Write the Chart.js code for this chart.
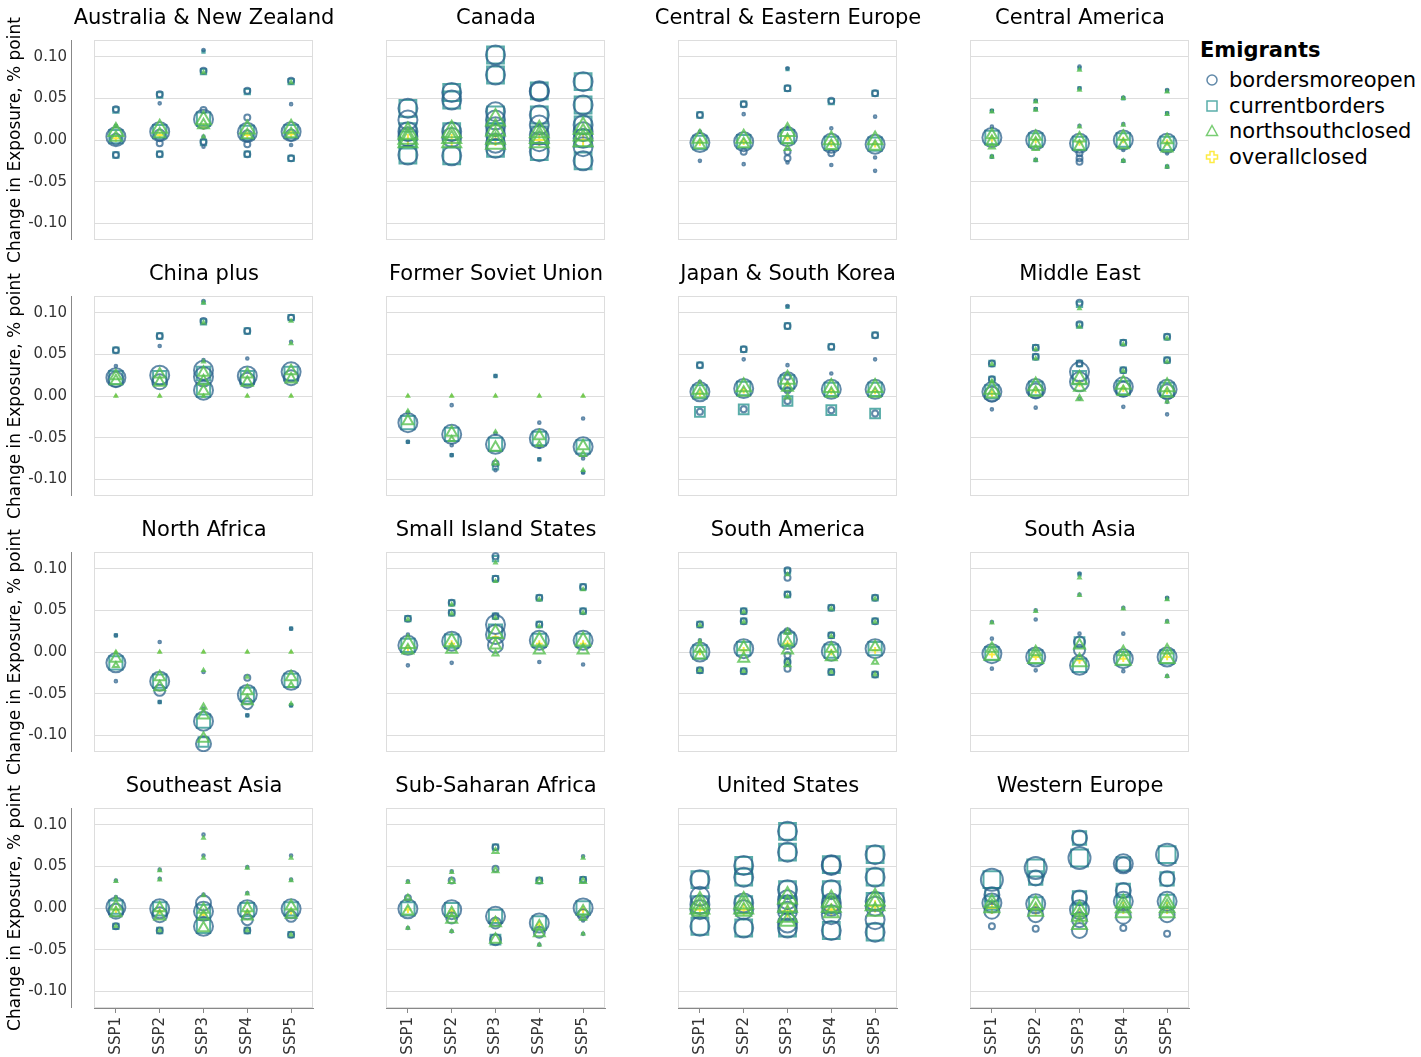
<!DOCTYPE html>
<html><head><meta charset="utf-8">
<script src="https://cdn.jsdelivr.net/npm/chart.js@4.4.1/dist/chart.umd.min.js"></script>
<style>
body{margin:0;background:#fff;width:1421px;height:1057px;overflow:hidden;position:relative;font-family:"DejaVu Sans",sans-serif;}
canvas{position:absolute;}
.ttl{position:absolute;width:300px;text-align:center;font-size:21px;line-height:21px;color:#000;white-space:nowrap;}
.lg{position:absolute;left:1200px;font-size:21px;line-height:21px;color:#000;white-space:nowrap;}
.lg svg{position:absolute;left:4px;top:2px;}
.lg span{position:absolute;left:29px;top:0;}
</style></head><body>
<script>
const ssps = ['SSP1','SSP2','SSP3','SSP4','SSP5'];
const scenarios = ['bordersmoreopen','currentborders','northsouthclosed','overallclosed'];
const regions = ['Australia & New Zealand','Canada','Central & Eastern Europe','Central America',
  'China plus','Former Soviet Union','Japan & South Korea','Middle East',
  'North Africa','Small Island States','South America','South Asia',
  'Southeast Asia','Sub-Saharan Africa','United States','Western Europe'];
const yTicks = [-0.10,-0.05,0,0.05,0.10];
const yTitle = 'Change in Exposure, % point';
const legendTitle = 'Emigrants';

// each point: [ssp number, change in exposure, size class]
const australiaNZ = [
 [[1,.037,2],[1,.017,1],[1,.004,5],[1,.001,3],[1,-.018,2],[2,.055,2],[2,.044,1],[2,.010,5],[2,.006,3],[2,-.004,2],[2,-.017,2],
  [3,.108,1],[3,.083,2],[3,.036,2],[3,.025,5],[3,.004,1],[3,-.002,2],[3,-.008,1],[4,.059,2],[4,.027,2],[4,.009,5],[4,.005,3],[4,-.005,2],[4,-.017,2],
  [5,.071,2],[5,.043,1],[5,.010,5],[5,.006,3],[5,-.006,1],[5,-.022,2]],
 [[1,.036,2],[1,.004,4],[1,-.018,2],[2,.054,2],[2,.010,4],[2,-.017,2],[3,.106,1],[3,.082,2],[3,.025,4],[3,-.003,2],[4,.058,2],[4,.009,4],[4,-.017,2],[5,.070,2],[5,.010,4],[5,-.022,2]],
 [[1,.010,4],[1,.003,3],[1,.016,1],[2,.014,4],[2,.007,3],[3,.024,4],[3,.018,3],[3,.004,1],[3,.081,1],[4,.013,4],[4,.006,3],[5,.014,4],[5,.007,3],[5,.069,1]],
 [[1,.002,2],[2,.006,2],[3,.016,2],[4,.006,2],[5,.007,2]]
];
const canada = [
 [[1,.038,5],[1,.024,5],[1,.010,5],[1,.004,5],[1,-.018,5],[2,.057,5],[2,.048,5],[2,.010,5],[2,.003,5],[2,-.019,5],
  [3,.102,5],[3,.078,5],[3,.034,5],[3,.024,5],[3,.016,5],[3,.007,5],[3,-.004,5],[3,-.010,5],
  [4,.059,5],[4,.058,5],[4,.030,5],[4,.018,5],[4,.006,5],[4,-.002,5],[4,-.014,5],
  [5,.070,5],[5,.042,5],[5,.018,5],[5,.010,5],[5,.002,5],[5,-.008,5],[5,-.025,5]],
 [[1,.038,5],[1,.010,5],[1,0,5],[1,-.018,5],[2,.057,5],[2,.048,5],[2,.010,5],[2,-.019,5],[3,.102,5],[3,.078,5],[3,.030,5],[3,.010,5],[3,-.010,5],
  [4,.059,5],[4,.030,5],[4,.006,5],[4,-.014,5],[5,.070,5],[5,.042,5],[5,.018,5],[5,.002,5],[5,-.025,5]],
 [[1,.008,5],[1,.002,5],[1,-.002,5],[2,.010,5],[2,.003,5],[2,-.002,5],[3,.024,5],[3,.012,5],[3,.002,5],[3,-.004,5],[4,.010,5],[4,.003,5],[4,-.002,5],[5,.014,5],[5,.006,5],[5,-.001,5]],
 [[1,0,3],[2,0,3],[3,0,3],[4,0,3],[5,0,3]]
];
const centralEasternEurope = [
 [[1,.030,2],[1,.010,1],[1,-.003,5],[1,-.025,1],[2,.043,2],[2,.031,1],[2,-.002,5],[2,-.014,2],[2,-.029,1],
  [3,.086,1],[3,.062,2],[3,.015,1],[3,.004,5],[3,-.014,2],[3,-.022,2],[3,-.027,1],[4,.047,2],[4,.014,1],[4,-.004,5],[4,-.016,2],[4,-.030,1],
  [5,.056,2],[5,.028,1],[5,-.005,5],[5,-.021,1],[5,-.037,1]],
 [[1,.030,2],[1,-.003,4],[2,.043,2],[2,-.002,4],[3,.085,1],[3,.062,2],[3,.004,4],[4,.046,2],[4,-.004,4],[5,.056,2],[5,-.005,4]],
 [[1,.002,4],[1,-.006,3],[2,.002,4],[2,-.005,3],[3,.010,4],[3,0,3],[3,-.010,2],[4,0,4],[4,-.007,3],[5,0,4],[5,-.008,3]],
 [[1,-.003,2],[2,-.002,2],[3,.003,2],[4,-.004,2],[5,-.005,2]]
];
const centralAmerica = [
 [[1,.035,1],[1,.016,1],[1,.003,5],[1,-.020,1],[2,.047,1],[2,.037,1],[2,0,5],[2,-.024,1],
  [3,.088,1],[3,.062,1],[3,.017,1],[3,-.004,5],[3,-.016,2],[3,-.022,2],[3,-.026,2],[4,.051,1],[4,.019,1],[4,0,5],[4,-.012,1],[4,-.025,1],
  [5,.060,1],[5,.032,1],[5,-.004,5],[5,-.016,1],[5,-.032,1]],
 [[1,.035,1],[1,.003,4],[1,-.020,1],[2,.047,1],[2,.037,1],[2,0,4],[2,-.024,1],[3,.086,1],[3,.062,1],[3,-.004,4],[4,.050,1],[4,0,4],[4,-.025,1],[5,.059,1],[5,.032,1],[5,-.004,4],[5,-.032,1]],
 [[1,.034,1],[1,.006,3],[1,-.002,3],[1,-.008,2],[1,-.020,1],[2,.046,1],[2,.036,1],[2,.004,3],[2,-.004,3],[2,-.010,2],[2,-.024,1],
  [3,.084,1],[3,.060,1],[3,.016,1],[3,.002,3],[3,-.008,3],[4,.050,1],[4,.018,1],[4,.004,3],[4,-.006,3],[4,-.025,1],
  [5,.058,1],[5,.031,1],[5,0,3],[5,-.010,3],[5,-.032,1]],
 [[1,.002,2],[2,0,2],[3,-.003,2],[4,0,2],[5,-.003,2]]
];
const chinaPlus = [
 [[1,.055,2],[1,.036,1],[1,.022,5],[1,.020,4],[2,.072,2],[2,.060,1],[2,.025,5],[2,.017,4],
  [3,.114,1],[3,.090,2],[3,.043,1],[3,.031,5],[3,.023,5],[3,.007,5],[4,.078,2],[4,.045,1],[4,.024,5],[4,.019,4],
  [5,.094,2],[5,.065,1],[5,.029,5],[5,.022,4]],
 [[1,.055,2],[1,.022,4],[2,.072,2],[2,.022,4],[3,.112,1],[3,.089,2],[3,.027,4],[3,.007,4],[4,.078,2],[4,.022,4],[5,.094,2],[5,.027,4]],
 [[1,.024,3],[1,.018,3],[1,0,1],[2,.026,3],[2,.016,3],[2,0,1],[3,.112,1],[3,.088,1],[3,.041,1],[3,.028,3],[3,.018,3],[3,.006,3],[3,0,1],
  [4,.026,3],[4,.016,3],[4,0,1],[5,.090,1],[5,.063,1],[5,.030,3],[5,.020,3],[5,0,1]],
 [[1,0,1],[2,0,1],[3,0,1],[4,0,1],[5,0,1]]
];
const formerSovietUnion = [
 [[1,-.020,1],[1,-.032,5],[1,-.055,1],[2,-.011,1],[2,-.046,5],[2,-.059,1],[2,-.071,1],
  [3,.024,1],[3,-.045,1],[3,-.058,5],[3,-.081,2],[3,-.089,1],[4,-.032,1],[4,-.051,5],[4,-.061,1],[4,-.076,1],
  [5,-.027,1],[5,-.061,5],[5,-.075,1],[5,-.092,1]],
 [[1,-.032,4],[1,-.055,1],[2,-.046,4],[2,-.071,1],[3,.024,1],[3,-.058,4],[3,-.085,2],[4,-.051,4],[4,-.076,1],[5,-.061,4],[5,-.091,1]],
 [[1,0,1],[1,-.018,1],[1,-.030,3],[2,0,1],[2,-.044,3],[2,-.052,2],[3,0,1],[3,-.043,1],[3,-.062,3],[3,-.080,2],
  [4,0,1],[4,-.048,3],[4,-.058,2],[5,0,1],[5,-.060,3],[5,-.070,2],[5,-.089,1]],
 [[1,0,1],[2,0,1],[3,0,1],[4,0,1],[5,0,1]]
];
const japanSouthKorea = [
 [[1,.037,2],[1,.017,1],[1,.005,5],[1,-.019,2],[2,.056,2],[2,.044,1],[2,.009,5],[2,-.016,2],
  [3,.108,1],[3,.084,2],[3,.037,1],[3,.023,2],[3,.017,5],[3,.007,2],[3,-.006,2],[4,.059,2],[4,.027,1],[4,.008,5],[4,-.017,2],
  [5,.073,2],[5,.044,1],[5,.008,5],[5,-.021,2]],
 [[1,.037,2],[1,.005,4],[1,-.019,3],[2,.056,2],[2,.009,4],[2,-.016,3],[3,.107,1],[3,.084,2],[3,.017,4],[3,-.006,3],[4,.059,2],[4,.008,4],[4,-.017,3],[5,.073,2],[5,.008,4],[5,-.021,3]],
 [[1,.008,4],[1,.002,3],[2,.011,4],[2,.004,3],[3,.020,4],[3,.010,3],[3,-.001,2],[4,.010,4],[4,.003,3],[5,.010,4],[5,.003,3]],
 [[1,.003,2],[2,.007,2],[3,.014,2],[4,.006,2],[5,.006,2]]
];
const middleEast = [
 [[1,.039,2],[1,.020,2],[1,.005,5],[1,.002,4],[1,-.016,1],[2,.058,2],[2,.047,2],[2,.009,5],[2,.006,4],[2,-.014,1],
  [3,.112,2],[3,.086,2],[3,.039,2],[3,.029,5],[3,.017,5],[3,-.003,1],[4,.064,2],[4,.031,2],[4,.011,5],[4,.008,4],[4,-.013,1],
  [5,.071,2],[5,.043,2],[5,.008,5],[5,.005,4],[5,-.007,1],[5,-.022,1]],
 [[1,.039,2],[1,.020,2],[1,.005,4],[2,.058,2],[2,.047,2],[2,.009,4],[3,.110,2],[3,.085,2],[3,.039,2],[3,.022,4],[4,.064,2],[4,.031,2],[4,.010,4],[5,.071,2],[5,.043,2],[5,.008,4]],
 [[1,.038,1],[1,.018,1],[1,.008,4],[1,.002,3],[2,.056,1],[2,.045,1],[2,.012,4],[2,.004,3],[3,.105,1],[3,.083,1],[3,.020,4],[3,.010,3],[3,-.003,2],
  [4,.062,1],[4,.030,1],[4,.014,4],[4,.005,3],[5,.069,1],[5,.041,1],[5,.011,4],[5,.003,3],[5,-.007,1]],
 [[1,.003,2],[2,.007,2],[3,.015,2],[4,.009,2],[5,.006,2]]
];
const northAfrica = [
 [[1,.020,1],[1,-.013,5],[1,-.035,1],[2,.012,1],[2,-.035,5],[2,-.046,3],[2,-.060,1],
  [3,-.024,1],[3,-.068,1],[3,-.083,5],[3,-.110,4],[4,-.031,2],[4,-.051,5],[4,-.062,3],[4,-.076,1],
  [5,.028,1],[5,-.034,5],[5,-.064,1]],
 [[1,.020,1],[1,-.013,4],[2,-.035,4],[2,-.060,1],[3,-.083,4],[3,-.108,3],[4,-.051,4],[4,-.076,1],[5,.028,1],[5,-.034,4],[5,-.064,1]],
 [[1,0,1],[1,-.008,3],[1,-.016,2],[2,0,1],[2,-.030,3],[2,-.042,3],[3,0,1],[3,-.022,1],[3,-.066,2],[3,-.076,3],[3,-.104,3],
  [4,0,1],[4,-.030,1],[4,-.047,3],[4,-.059,3],[5,0,1],[5,-.030,3],[5,-.040,2],[5,-.062,1]],
 [[1,0,1],[2,0,1],[3,0,1],[4,0,1],[5,0,1]]
];
const smallIslandStates = [
 [[1,.040,2],[1,.021,1],[1,.008,5],[1,-.016,1],[2,.059,2],[2,.047,2],[2,.013,5],[2,-.013,1],
  [3,.115,2],[3,.088,2],[3,.043,2],[3,.033,5],[3,.021,5],[3,.008,4],[4,.065,2],[4,.033,2],[4,.014,5],[4,-.012,1],
  [5,.078,2],[5,.049,2],[5,.014,5],[5,-.015,1]],
 [[1,.040,2],[1,.008,4],[2,.059,2],[2,.047,2],[2,.013,4],[3,.112,2],[3,.088,2],[3,.043,2],[3,.025,4],[4,.065,2],[4,.033,2],[4,.014,4],[5,.078,2],[5,.049,2],[5,.014,4]],
 [[1,.039,1],[1,.010,4],[1,.002,3],[2,.057,1],[2,.046,1],[2,.012,4],[2,.003,3],[3,.107,1],[3,.085,1],[3,.041,1],[3,.022,4],[3,.008,3],[3,-.002,2],
  [4,.063,1],[4,.031,1],[4,.013,4],[4,.002,3],[5,.075,1],[5,.047,1],[5,.013,4],[5,.002,3]],
 [[1,.005,2],[2,.010,2],[3,.018,2],[4,.010,2],[5,.010,2]]
];
const southAmerica = [
 [[1,.033,2],[1,.014,1],[1,0,5],[1,-.022,2],[2,.049,2],[2,.037,2],[2,.004,5],[2,-.023,2],
  [3,.098,2],[3,.089,2],[3,.069,2],[3,.025,2],[3,.015,5],[3,-.004,2],[3,-.012,2],[3,-.020,2],
  [4,.053,2],[4,.020,2],[4,.001,5],[4,-.024,2],[5,.065,2],[5,.037,2],[5,.004,5],[5,-.027,2]],
 [[1,.033,2],[1,0,4],[1,-.022,2],[2,.049,2],[2,.037,2],[2,.004,4],[2,-.023,2],[3,.097,2],[3,.069,2],[3,.015,4],[3,-.012,2],
  [4,.053,2],[4,.020,2],[4,.001,4],[4,-.024,2],[5,.065,2],[5,.037,2],[5,.004,4],[5,-.027,2]],
 [[1,.032,1],[1,.013,1],[1,.004,3],[1,-.004,3],[1,-.022,1],[2,.048,1],[2,.036,1],[2,.006,3],[2,-.008,3],[2,-.023,1],
  [3,.093,1],[3,.067,1],[3,.024,2],[3,.012,3],[3,.002,3],[3,-.015,2],[4,.052,1],[4,.019,1],[4,.004,3],[4,-.006,3],[4,-.024,1],
  [5,.064,1],[5,.036,1],[5,.006,3],[5,-.012,2],[5,-.027,1]],
 [[1,0,2],[2,.002,2],[3,.010,2],[4,0,2],[5,.002,2]]
];
const southAsia = [
 [[1,.036,1],[1,.016,1],[1,-.002,5],[1,-.020,1],[2,.050,1],[2,.039,1],[2,-.006,5],[2,-.022,1],
  [3,.094,1],[3,.069,1],[3,.022,1],[3,.012,3],[3,.002,3],[3,-.016,5],[4,.053,1],[4,.022,1],[4,-.008,5],[4,-.023,1],
  [5,.065,1],[5,.037,1],[5,-.006,5],[5,-.029,1]],
 [[1,-.002,4],[2,-.006,4],[3,.093,1],[3,.012,3],[3,-.016,4],[4,-.008,4],[5,.064,1],[5,-.006,4]],
 [[1,.035,1],[1,.004,3],[1,-.004,4],[2,.049,1],[2,0,3],[2,-.008,4],[3,.089,1],[3,.068,1],[3,.008,3],[3,-.012,4],
  [4,.052,1],[4,0,3],[4,-.010,4],[5,.063,1],[5,.036,1],[5,.002,3],[5,-.008,4],[5,-.029,1]],
 [[1,-.003,2],[2,-.006,2],[3,-.010,2],[4,-.008,2],[5,-.006,2]]
];
const southeastAsia = [
 [[1,.033,1],[1,.013,1],[1,.001,5],[1,-.004,4],[1,-.022,2],[2,.046,1],[2,.035,1],[2,-.001,5],[2,-.008,4],[2,-.027,2],
  [3,.088,1],[3,.063,1],[3,.016,1],[3,.006,4],[3,-.004,5],[3,-.022,5],[4,.049,1],[4,.018,1],[4,-.002,5],[4,-.014,3],[4,-.027,2],
  [5,.063,1],[5,.034,1],[5,-.001,5],[5,-.010,3],[5,-.032,2]],
 [[1,.001,4],[1,-.022,2],[2,-.001,4],[2,-.027,2],[3,-.004,4],[3,-.022,4],[4,-.002,4],[4,-.027,2],[5,-.001,4],[5,-.032,2]],
 [[1,.032,1],[1,.012,1],[1,.002,3],[1,-.006,3],[1,-.022,1],[2,.045,1],[2,.034,1],[2,0,3],[2,-.010,3],[2,-.027,1],
  [3,.084,1],[3,.060,1],[3,.015,1],[3,-.002,3],[3,-.010,3],[3,-.024,3],[4,.048,1],[4,.017,1],[4,0,3],[4,-.010,3],[4,-.027,1],
  [5,.060,1],[5,.033,1],[5,.002,3],[5,-.008,3],[5,-.032,1]],
 [[1,-.002,2],[2,-.004,2],[3,-.008,2],[4,-.005,2],[5,-.004,2]]
];
const subSaharanAfrica = [
 [[1,.032,1],[1,.012,2],[1,-.001,5],[1,-.024,1],[2,.044,1],[2,.033,2],[2,-.002,5],[2,-.012,3],[2,-.028,1],
  [3,.073,2],[3,.047,2],[3,-.010,5],[3,-.018,3],[3,-.038,3],[4,.033,2],[4,-.018,5],[4,-.029,3],[4,-.044,1],
  [5,.062,1],[5,.034,2],[5,0,5],[5,-.008,3],[5,-.015,1],[5,-.031,1]],
 [[1,-.001,4],[2,-.002,4],[3,.073,2],[3,-.010,4],[3,-.038,3],[4,.033,2],[4,-.018,4],[5,.034,2],[5,0,4]],
 [[1,.031,1],[1,.012,2],[1,-.004,3],[1,-.024,1],[2,.043,1],[2,.032,2],[2,-.006,3],[2,-.014,3],[2,-.028,1],
  [3,.068,2],[3,.045,2],[3,-.018,3],[3,-.038,3],[4,.032,2],[4,-.022,3],[4,-.030,3],[4,-.044,1],
  [5,.060,1],[5,.032,2],[5,-.004,3],[5,-.012,2],[5,-.031,1]],
 [[1,-.002,2],[2,-.004,2],[3,-.014,2],[4,-.020,2],[5,-.002,2]]
];
const unitedStates = [
 [[1,.034,5],[1,.014,5],[1,.004,5],[1,-.002,5],[1,-.022,5],[2,.051,5],[2,.037,5],[2,.006,5],[2,-.002,5],[2,-.024,5],
  [3,.092,5],[3,.067,5],[3,.022,5],[3,.010,5],[3,.004,5],[3,-.004,5],[3,-.018,5],[3,-.024,5],
  [4,.052,5],[4,.051,5],[4,.022,5],[4,.006,5],[4,.002,5],[4,-.008,5],[4,-.027,5],
  [5,.064,5],[5,.037,5],[5,.008,5],[5,.002,5],[5,-.014,5],[5,-.029,5]],
 [[1,.034,5],[1,.004,5],[1,-.022,5],[2,.051,5],[2,.037,5],[2,.004,5],[2,-.024,5],[3,.092,5],[3,.067,5],[3,.022,5],[3,.004,5],[3,-.024,5],
  [4,.052,5],[4,.022,5],[4,.004,5],[4,-.027,5],[5,.064,5],[5,.037,5],[5,.008,5],[5,-.029,5]],
 [[1,.006,5],[1,0,5],[1,-.004,4],[2,.006,5],[2,0,5],[2,-.004,4],[3,.012,5],[3,.002,5],[3,-.010,5],[3,-.016,4],
  [4,.008,5],[4,.002,5],[4,-.006,4],[5,.010,5],[5,.004,5],[5,-.004,4]],
 [[1,-.002,3],[2,-.002,3],[3,-.004,3],[4,-.002,3],[5,.002,3]]
];
const westernEurope = [
 [[1,.034,6],[1,.016,4],[1,.006,5],[1,-.004,4],[1,-.022,2],[2,.048,6],[2,.036,4],[2,.005,5],[2,-.008,4],[2,-.025,2],
  [3,.084,4],[3,.060,6],[3,.012,4],[3,-.002,5],[3,-.014,4],[3,-.027,4],[4,.053,5],[4,.052,4],[4,.021,4],[4,.008,5],[4,-.010,4],[4,-.024,2],
  [5,.064,6],[5,.035,4],[5,.008,5],[5,-.008,4],[5,-.031,2]],
 [[1,.034,5],[1,.016,4],[1,.006,4],[2,.048,5],[2,.036,4],[2,.005,4],[3,.084,4],[3,.060,5],[3,.012,4],[3,-.002,4],
  [4,.053,4],[4,.021,4],[4,.008,4],[5,.064,5],[5,.035,4],[5,.008,4]],
 [[1,.006,4],[1,0,4],[2,.004,4],[2,-.004,4],[3,-.002,4],[3,-.010,4],[3,-.020,4],[4,.006,4],[4,0,4],[4,-.006,4],[5,.006,4],[5,0,4],[5,-.006,4]],
 [[1,0,3],[2,-.002,3],[3,-.010,3],[4,0,3],[5,0,3]]
];
const regionData = [australiaNZ, canada, centralEasternEurope, centralAmerica,
  chinaPlus, formerSovietUnion, japanSouthKorea, middleEast,
  northAfrica, smallIslandStates, southAmerica, southAsia,
  southeastAsia, subSaharanAfrica, unitedStates, westernEurope];

// ---- styling ----
const FONT = '"DejaVu Sans", sans-serif';
Chart.defaults.font.family = FONT;
const shapes = ['circle','rect','triangle','cross'];
const colors = ['rgba(44,98,140,0.75)','rgba(33,145,140,0.75)','rgba(88,192,80,0.8)','rgba(253,231,37,0.85)'];
const shapeScale = [1, 1.25, 1.15, 1.1];
const drawOrder = [1, 2, 0, 3];
const sizeRadius = [0, 1.3, 3, 5.5, 7.5, 9.5, 11];

const frame = {
  id: 'frame',
  beforeDatasetsDraw(chart, args, opts) {
    const a = chart.chartArea, g = chart.ctx;
    g.save();
    g.strokeStyle = '#dddddd'; g.lineWidth = 1;
    g.strokeRect(a.left + 0.5, a.top + 0.5, a.right - a.left - 1, a.bottom - a.top - 1);
    if (opts.axisLine) {
      g.strokeStyle = '#888888';
      g.beginPath(); g.moveTo(a.left - 22.5, a.top); g.lineTo(a.left - 22.5, a.bottom); g.stroke();
    }
    g.restore();
  }
};

regionData.forEach((pts, i) => {
  const r = Math.floor(i / 4), c = i % 4;
  const bottom = r === 3;
  const cv = document.createElement('canvas');
  const H = bottom ? 289 : 268;
  cv.width = 320; cv.height = H;
  cv.style.left = (292 * c) + 'px'; cv.style.top = (256 * r) + 'px';
  cv.style.width = '320px'; cv.style.height = H + 'px';
  document.body.appendChild(cv);

  const t = document.createElement('div');
  t.className = 'ttl'; t.textContent = regions[i];
  t.style.left = (292 * c + 94 + 110 - 150) + 'px';
  t.style.top = (256 * r + 7) + 'px';
  document.body.appendChild(t);

  new Chart(cv, {
    type: 'scatter',
    data: {
      datasets: scenarios.map((s, k) => ({
        label: s,
        data: pts[k].map(p => ({x: ssps[p[0] - 1], y: p[1], w: p[2]})),
        pointStyle: shapes[k],
        pointBorderColor: colors[k],
        pointBackgroundColor: 'rgba(0,0,0,0)',
        pointBorderWidth: 2,
        pointRadius: ctx => sizeRadius[ctx.raw.w] * shapeScale[k],
        order: drawOrder[k]
      }))
    },
    options: {
      responsive: false, animation: false, events: [],
      devicePixelRatio: 1,
      layout: {autoPadding: false, padding: {top: 40, right: 7, left: 0, bottom: 0}},
      plugins: {legend: {display: false}, tooltip: {enabled: false}, frame: {axisLine: c === 0}},
      scales: {
        x: {
          type: 'category', labels: ssps, offset: true,
          grid: {display: bottom, drawOnChartArea: false, drawTicks: true, tickLength: 5, color: '#888888'},
          border: {display: bottom, color: '#888888'},
          ticks: {display: bottom, minRotation: 90, maxRotation: 90, padding: 4, color: '#333333', font: {size: 15, family: FONT}},
          afterFit: s => { s.height = bottom ? 49 : 28; s.paddingLeft = 0; s.paddingRight = 0; }
        },
        y: {
          min: -0.12, max: 0.12,
          afterBuildTicks: s => { s.ticks = yTicks.map(v => ({value: v})); },
          grid: {color: '#dddddd', drawTicks: false},
          border: {display: false},
          ticks: {display: c === 0, padding: 27, color: '#333333', font: {size: 15, family: FONT},
                  callback: v => Number(v).toFixed(2)},
          title: {display: c === 0, text: yTitle, color: '#000000', font: {size: 17, family: FONT}, padding: {top: 5, bottom: 0}},
          afterFit: s => { s.width = 94; s.paddingTop = 0; s.paddingBottom = 0; }
        }
      }
    },
    plugins: [frame]
  });
});

// legend
const lgTop = [40, 70, 96, 121, 147];
const lgHead = document.createElement('div');
lgHead.className = 'lg'; lgHead.style.top = lgTop[0] + 'px'; lgHead.style.fontWeight = 'bold';
lgHead.textContent = legendTitle;
document.body.appendChild(lgHead);
const sym = [
  '<circle cx="8" cy="8" r="5" fill="none" stroke="' + colors[0] + '" stroke-width="1.5"/>',
  '<rect x="3" y="3" width="10" height="10" fill="none" stroke="' + colors[1] + '" stroke-width="1.5"/>',
  '<path d="M8 2.5 L13.5 12.5 L2.5 12.5 Z" fill="none" stroke="' + colors[2] + '" stroke-width="1.5"/>',
  '<path d="M6 2.5 H10 V6 H13.5 V10 H10 V13.5 H6 V10 H2.5 V6 H6 Z" fill="none" stroke="' + colors[3] + '" stroke-width="1.5"/>'
];
scenarios.forEach((s, k) => {
  const d = document.createElement('div');
  d.className = 'lg'; d.style.top = lgTop[k + 1] + 'px';
  d.innerHTML = '<svg width="16" height="16" viewBox="0 0 16 16">' + sym[k] + '</svg><span></span>';
  d.querySelector('span').textContent = s;
  document.body.appendChild(d);
});
</script>
</body></html>
